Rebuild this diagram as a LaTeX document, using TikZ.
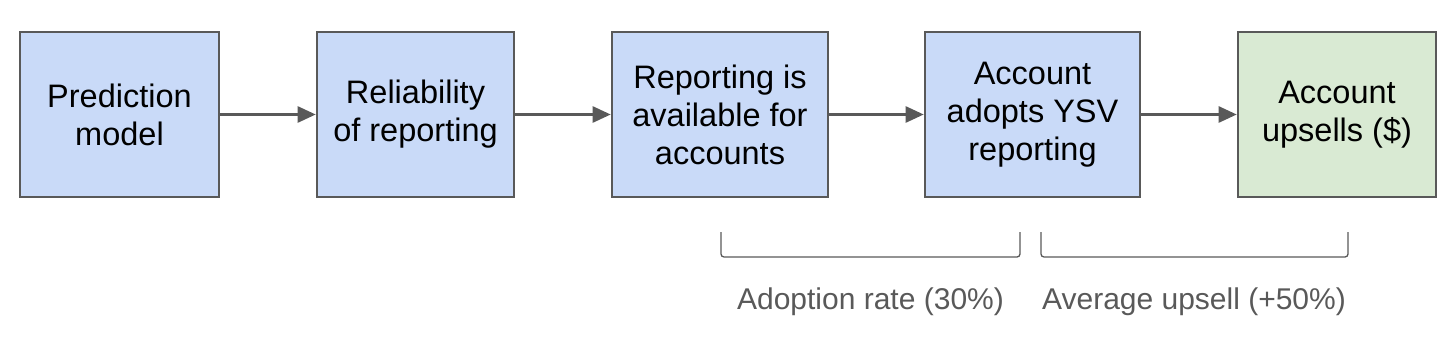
\documentclass[tikz,border=0pt]{standalone}
\usepackage{fontspec}
\setmainfont{Liberation Sans}
\usetikzlibrary{arrows.meta}
\definecolor{boxblue}{HTML}{C9DAF8}
\definecolor{boxgreen}{HTML}{D9EAD3}
\definecolor{edge}{HTML}{595959}
\begin{document}
\begin{tikzpicture}[x=1pt,y=-1pt,
  stagebox/.style={draw=edge,line width=2.6pt,fill=boxblue,minimum height=165pt,align=center,font=\fontsize{32.5}{38}\selectfont,inner sep=0pt},
  flow/.style={draw=edge,line width=2.6pt,-{Triangle[length=18pt,width=16pt]}},
  brk/.style={draw=edge,line width=1.3pt,rounded corners=3pt},
  note/.style={text=edge,font=\fontsize{30}{34}\selectfont,anchor=base}]
\useasboundingbox (0,0) rectangle (1456,342);
\node[stagebox,minimum width=199pt] (a) at (119.5,114.5) {Prediction\\model};
\node[stagebox,minimum width=197pt] (b) at (415.5,114.5) {Reliability\\of reporting};
\node[stagebox,minimum width=216pt] (c) at (720,114.5) {Reporting is\\available for\\accounts};
\node[stagebox,minimum width=215pt] (d) at (1032.5,114.5) {Account\\adopts YSV\\reporting};
\node[stagebox,minimum width=198pt,fill=boxgreen] (e) at (1337,114.5) {Account\\upsells (\$)};
\draw[flow] (a) -- (b);
\draw[flow] (b) -- (c);
\draw[flow] (c) -- (d);
\draw[flow] (d) -- (e);
\coordinate (b1l) at (721,232);
\coordinate (b1r) at (1020,232);
\coordinate (b2l) at (1041,232);
\coordinate (b2r) at (1348,232);
\draw[brk] (b1l) -- (721,257) -- (1020,257) -- (b1r);
\draw[brk] (b2l) -- (1041,257) -- (1348,257) -- (b2r);
\node[note] (l1) at (870.5,309) {Adoption rate (30\%)};
\node[note] (l2) at (1194,309) {Average upsell (+50\%)};
\end{tikzpicture}
\end{document}
